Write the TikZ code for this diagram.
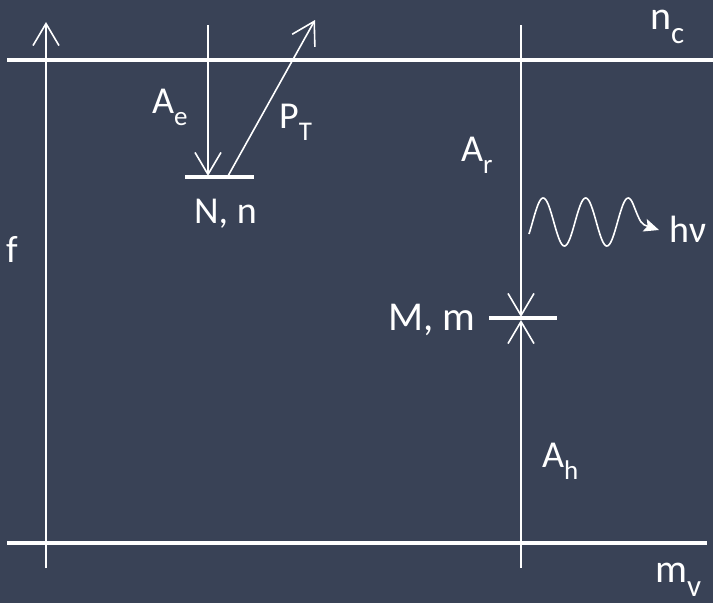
\documentclass[tikz,border=0pt]{standalone}
\usepackage{fontspec}
\setmainfont{Carlito}
\usetikzlibrary{arrows.meta}
\definecolor{slate}{RGB}{57,66,86}
\newcommand{\lsub}[1]{\raisebox{-12pt}{\fontsize{27}{27}\selectfont #1}}
\newcommand{\bsub}[1]{\raisebox{-14pt}{\fontsize{31}{31}\selectfont #1}}

\begin{document}
\begin{tikzpicture}[x=1pt, y=-1pt,
	level/.style={white, line width=4pt},
	trans/.style={white, line width=1.6pt, -{Straight Barb[length=22pt,width=26pt]}},
	lbl/.style={white, font=\fontsize{38}{40}\selectfont, inner sep=0pt, anchor=base west}]
	\fill[slate] (0,0) rectangle (713,603);
	\useasboundingbox (0,0) rectangle (713,603);
	% band edges
	\coordinate (cL) at (7,60);  \coordinate (cR) at (713,60);
	\coordinate (vL) at (7,543); \coordinate (vR) at (707,543);
	\draw[level] (cL) -- (cR);
	\draw[level] (vL) -- (vR);
	% trap levels
	\coordinate (Nl) at (185,177); \coordinate (Nr) at (254,177);
	\coordinate (Ml) at (489,318); \coordinate (Mr) at (557,318);
	\draw[level] (Nl) -- (Nr);
	\draw[level] (Ml) -- (Mr);
	% transitions
	\coordinate (f0) at (46,568);  \coordinate (f1) at (46,22);
	\coordinate (e0) at (208,25);  \coordinate (eN) at (208,176);
	\coordinate (pN) at (228,176); \coordinate (p1) at (315,20);
	\coordinate (r0) at (521,25);  \coordinate (rM) at (521,317);
	\coordinate (h0) at (521,568); \coordinate (hM) at (521,320);
	\draw[trans] (f0) -- (f1);
	\draw[trans] (e0) -- (eN);
	\draw[trans] (pN) -- (p1);
	\draw[trans] (r0) -- (rM);
	\draw[trans] (h0) -- (hM);
	% photon
	\coordinate (w1) at (659,230);
	\draw[white, line width=1.6pt, -{Stealth[length=15pt,width=13pt,inset=3pt]}]
		plot[domain=-30:850, samples=120, smooth] ({529+(\x+30)/360*42.5},{222-24*sin(\x)})
		.. controls (641,224) .. (w1);
	% labels
	\node[lbl] (f) at (6,262) {f};
	\node[lbl, font=\fontsize{40}{42}\selectfont] (nc) at (650,29) {n\bsub{c}};
	\node[lbl, font=\fontsize{40}{42}\selectfont] (mv) at (655,582) {m\bsub{v}};
	\node[lbl] (Ae) at (152,113) {A\lsub{e}};
	\node[lbl] (PT) at (279,128) {P\lsub{T}};
	\node[lbl] (Nn) at (194,223) {N, n};
	\node[lbl] (Ar) at (461,161) {A\lsub{r}};
	\node[lbl, font=\fontsize{41}{43}\selectfont] (Mm) at (388,330) {M, m};
	\node[lbl] (Ah) at (542,467) {A\lsub{h}};
	\node[lbl] (hv) at (669,242) {hν};
\end{tikzpicture}
\end{document}
